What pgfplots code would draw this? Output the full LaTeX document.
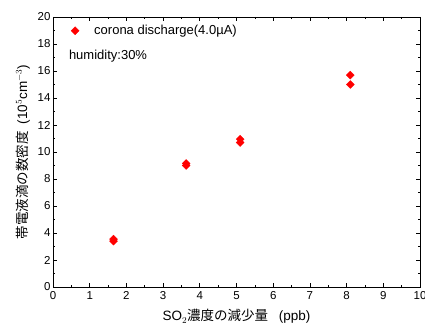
\documentclass[border=0pt]{standalone}
\usepackage{pgfplots}
\pgfplotsset{compat=1.18}
\usepackage{fontspec}
\setmainfont{Liberation Sans}
\newfontfamily\jp{Noto Sans CJK JP}
\begin{document}
\begin{tikzpicture}
\useasboundingbox (-53pt,-42pt) rectangle (372pt,287pt);
\begin{axis}[
  scale only axis, width=367pt, height=270pt,
  at={(0,0)}, anchor=south west,
  xmin=0, xmax=10, ymin=0, ymax=20,
  xtick={0,1,...,10}, ytick={0,2,...,20},
  minor x tick num=1, minor y tick num=1,
  tick align=inside, tick pos=both,
  major tick length=4pt, minor tick length=2pt,
  axis line style={line width=0.8pt}, tick style={line width=0.7pt, black},
  /pgf/number format/assume math mode=true,
  ticklabel style={font=\fontsize{11.5}{12}\selectfont},
  xticklabel style={yshift=-1pt}, yticklabel style={xshift=1pt},
  xlabel={\fontsize{13.5}{14}\selectfont SO$_2${\jp 濃度の減少量}\hspace{0.8em}(ppb)},
  ylabel={\fontsize{13.5}{14}\selectfont {\jp 帯電液滴の数密度}\hspace{0.5em}(10$^5$cm$^{-3}$)},
  xlabel style={yshift=-3pt}, ylabel style={yshift=1pt},
  legend style={draw=none, fill=none, at={(0.04,0.985)}, anchor=north west, font=\fontsize{13}{14}\selectfont},
  legend cell align=left,
  legend image code/.code={\path[draw=none] (0cm,0cm) -- (0.75cm,0cm); \draw plot coordinates {(0.15cm,0cm)};},
]
\addplot[only marks, mark=square*, mark size=2.8pt, mark options={rotate=45}, color=red] coordinates {
 (1.65,3.4) (1.65,3.55) (3.63,9.0) (3.63,9.15) (5.1,10.7) (5.1,10.95) (8.1,15.0) (8.1,15.7)
};
\addlegendentry{corona discharge(4.0µA)}
\node[anchor=west, font=\fontsize{13}{14}\selectfont] at (axis cs:0.34,17.1) {humidity:30\%};
\end{axis}
\end{tikzpicture}
\end{document}
